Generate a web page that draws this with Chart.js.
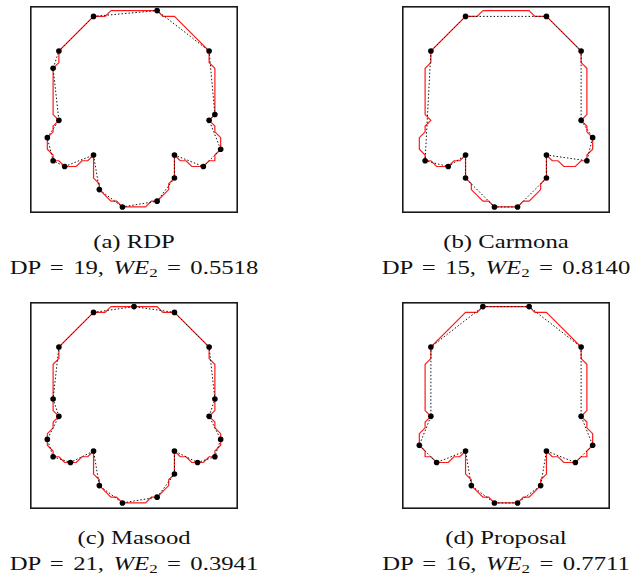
<!DOCTYPE html>
<html>
<head>
<meta charset="utf-8">
<script src="https://cdn.jsdelivr.net/npm/chart.js@4/dist/chart.umd.min.js"></script>
<style>
  html, body { margin: 0; padding: 0; background: #fff; }
  body { width: 632px; height: 584px; position: relative; overflow: hidden; }
  .panel { position: absolute; width: 216px; height: 215px; }
  .cap { position: absolute; width: 300px; text-align: center; font-family: "Liberation Serif", "DejaVu Serif", serif;
         font-size: 19px; line-height: 19px; color: #111; white-space: nowrap;
         transform: scaleX(1.3); transform-origin: 50% 50%; }
  .cap.stats { word-spacing: 2.5px; }
  .cap i { font-style: italic; }
  .cap sub { font-size: 13px; vertical-align: -3px; line-height: 0; }
</style>
</head>
<body>
<div class="panel" style="left:26px; top:2px;"><canvas id="cA" width="216" height="215"></canvas></div>
<div class="panel" style="left:398px; top:2px;"><canvas id="cB" width="216" height="215"></canvas></div>
<div class="panel" style="left:26px; top:298px;"><canvas id="cC" width="216" height="215"></canvas></div>
<div class="panel" style="left:398px; top:298px;"><canvas id="cD" width="216" height="215"></canvas></div>

<div class="cap" style="left:-16px; top:232px;">(a) RDP</div>
<div class="cap stats" style="left:-16px; top:258px;">DP = 19, <i>WE</i><sub>2</sub> = 0.5518</div>
<div class="cap" style="left:356px; top:232px;">(b) Carmona</div>
<div class="cap stats" style="left:356px; top:258px;">DP = 15, <i>WE</i><sub>2</sub> = 0.8140</div>
<div class="cap" style="left:-16px; top:528px;">(c) Masood</div>
<div class="cap stats" style="left:-16px; top:554px;">DP = 21, <i>WE</i><sub>2</sub> = 0.3941</div>
<div class="cap" style="left:356px; top:528px;">(d) Proposal</div>
<div class="cap stats" style="left:356px; top:554px;">DP = 16, <i>WE</i><sub>2</sub> = 0.7711</div>

<script>
// Chain-coded contour of the shape (grid units, y grows downward), closed.
const contourX = [11,19,20,22,28,28,29,29,28,29,29,30,30,29,29,28,27,25,24,23,22,22,21,21,20,19,18,17,13,12,11,10,9,9,8,8,7,6,5,3,2,1,1,0,0,1,1,2,1,1,2,2,8,10,11];
const contourY = [0,0,1,1,7,9,10,18,19,20,21,22,24,25,26,26,27,27,26,26,25,29,30,31,32,33,33,34,34,33,33,32,31,30,29,25,26,26,27,27,26,26,25,24,22,21,20,19,18,10,9,7,1,1,0];

// Dominant points found by each method (closed polygons).
const rdpX = [8,19,28,29,28,30,27,22,22,19,13,9,8,3,1,0,2,1,2];
const rdpY = [1,0,7,18,19,24,27,25,29,33,34,31,25,27,26,22,19,10,7];

const carmonaX = [8,22,28,28,30,29,22,22,17,13,8,8,5,1,2];
const carmonaY = [1,1,7,19,22,26,25,29,34,34,29,25,27,26,7];

const masoodX = [8,15,22,28,29,28,30,29,26,22,22,19,13,9,8,4,1,0,2,1,2];
const masoodY = [1,0,1,7,16,19,23,26,27,25,29,33,34,31,25,27,26,23,19,16,7];

const proposalX = [11,19,28,28,30,27,22,21,17,13,9,8,3,0,2,2];
const proposalY = [0,0,7,19,24,27,25,31,34,34,31,25,27,24,19,7];

function toPoints(xs, ys, close) {
  const pts = xs.map((x, i) => ({ x: x, y: ys[i] }));
  if (close) pts.push({ x: xs[0], y: ys[0] });
  return pts;
}

const framePlugin = {
  id: 'frame',
  afterDraw(chart) {
    const { ctx, chartArea: a } = chart;
    ctx.save();
    ctx.strokeStyle = '#1a1a1a';
    ctx.lineWidth = 1.6;
    ctx.strokeRect(a.left + 0.8, a.top + 0.8, a.right - a.left - 1.6, a.bottom - a.top - 1.6);
    ctx.restore();
  }
};

function drawPanel(id, xs, ys) {
  const polygon = toPoints(xs, ys, true);
  new Chart(document.getElementById(id), {
    type: 'scatter',
    data: {
      datasets: [
        {
          data: toPoints(contourX, contourY, false),
          showLine: true,
          borderColor: '#ff1a1a',
          borderWidth: 1.2,
          pointRadius: 0,
          fill: false,
          tension: 0,
          order: 3
        },
        {
          data: polygon,
          showLine: true,
          borderColor: '#111',
          borderWidth: 1,
          borderDash: [1.5, 2],
          pointRadius: 0,
          fill: false,
          tension: 0,
          order: 2
        },
        {
          data: toPoints(xs, ys, false),
          showLine: false,
          pointRadius: 2.8,
          pointBackgroundColor: '#000',
          pointBorderColor: '#000',
          pointBorderWidth: 0,
          order: 1
        }
      ]
    },
    options: {
      responsive: false,
      animation: false,
      layout: { padding: 0 },
      clip: false,
      plugins: { legend: { display: false }, tooltip: { enabled: false }, title: { display: false } },
      scales: {
        x: { type: 'linear', display: false, min: -3, max: 33 },
        y: { type: 'linear', display: false, reverse: true, min: -0.8, max: 35.05 }
      }
    },
    plugins: [framePlugin]
  });
}

drawPanel('cA', rdpX, rdpY);
drawPanel('cB', carmonaX, carmonaY);
drawPanel('cC', masoodX, masoodY);
drawPanel('cD', proposalX, proposalY);
</script>
</body>
</html>
